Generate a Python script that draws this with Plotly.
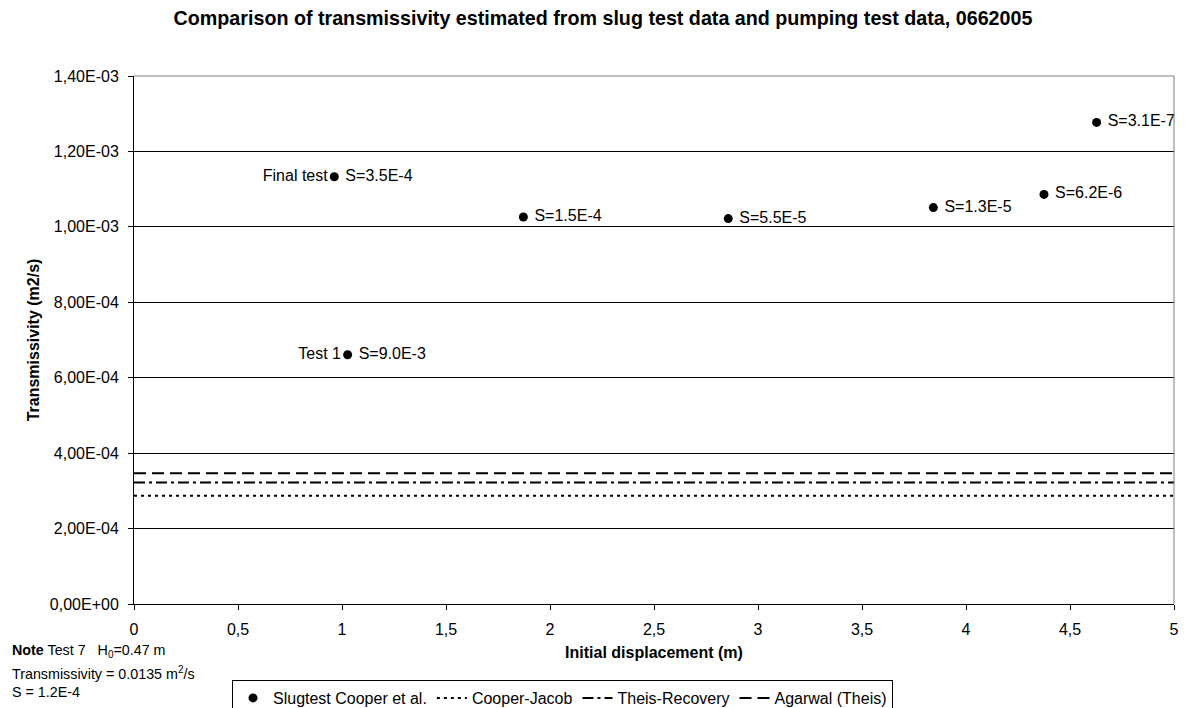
import plotly.graph_objects as go

# Slug test points (Cooper et al.)
disp = [0.963, 1.027, 1.872, 2.857, 3.843, 4.375, 4.628]
trans = [1.133e-3, 6.61e-4, 1.026e-3, 1.022e-3, 1.051e-3, 1.086e-3, 1.277e-3]
s_labels = ["S=3.5E-4", "S=9.0E-3", "S=1.5E-4", "S=5.5E-5", "S=1.3E-5", "S=6.2E-6", "S=3.1E-7"]
left_labels = ["Final test", "Test 1", "", "", "", "", ""]

# Pumping test transmissivities (horizontal reference lines)
line_names = ["Cooper-Jacob", "Theis-Recovery", "Agarwal (Theis)"]
line_values = [2.87e-4, 3.22e-4, 3.47e-4]
line_x = [0, 5]

ytick_vals = [0, 2e-4, 4e-4, 6e-4, 8e-4, 1.0e-3, 1.2e-3, 1.4e-3]
ytick_text = ["0,00E+00", "2,00E-04", "4,00E-04", "6,00E-04", "8,00E-04", "1,00E-03", "1,20E-03", "1,40E-03"]
xtick_vals = [0, 0.5, 1, 1.5, 2, 2.5, 3, 3.5, 4, 4.5, 5]
xtick_text = ["0", "0,5", "1", "1,5", "2", "2,5", "3", "3,5", "4", "4,5", "5"]

FONT = "Liberation Sans, Arial, sans-serif"
FS = 16
dashes = ["3px,4px", "11px,4px,3px,4px", "12px,6px"]

# page body adds an 8px offset; figure is sized so that it ends at the window edge
W, H = 1178, 700
PL, PR, PT, PB = 126, 1166, 68, 596  # plot area in figure pixels

fig = go.Figure()
fig.add_trace(go.Scatter(
    x=disp, y=trans, mode="markers+text", name="Slugtest Cooper et al.",
    marker=dict(color="black", size=9), text=["\u00a0" + s for s in s_labels],
    textposition="middle right",
    textfont=dict(size=FS, color="black", family=FONT), cliponaxis=False))
fig.add_trace(go.Scatter(
    x=disp, y=trans, mode="markers+text", text=left_labels, textposition="middle left",
    marker=dict(size=9, color="rgba(0,0,0,0)"),
    textfont=dict(size=FS, color="black", family=FONT), showlegend=False, hoverinfo="skip",
    cliponaxis=False))
for name, val, d in zip(line_names, line_values, dashes):
    fig.add_trace(go.Scatter(
        x=line_x, y=[val, val], mode="lines", name=name,
        line=dict(color="black", width=2, dash=d)))

ph = PB - PT
pw = PR - PL
fig.update_layout(
    width=W, height=H,
    margin=dict(l=PL, r=W - PR, t=PT, b=H - PB, autoexpand=False),
    paper_bgcolor="white", plot_bgcolor="white",
    font=dict(family=FONT, size=FS, color="black"),
    title=dict(text="<b>Comparison of transmissivity estimated from slug test data and pumping test data, 0662005</b>",
               x=595 / W, xanchor="center", y=1 - 10.5 / H, yanchor="middle",
               font=dict(size=19.7, family=FONT, color="black")),
    showlegend=True,
    legend=dict(orientation="h", x=(224 - PL) / pw, xanchor="left", y=(PB - 672) / ph, yanchor="top",
                bordercolor="black", borderwidth=1, bgcolor="white",
                font=dict(size=FS, family=FONT), itemsizing="trace", tracegroupgap=0),
)
fig.update_xaxes(range=[0, 5], tickvals=xtick_vals, ticktext=xtick_text,
                 showgrid=False, zeroline=False, showline=True, linecolor="black", linewidth=1,
                 ticks="outside", ticklen=5, tickcolor="black", mirror=False,
                 tickfont=dict(size=FS, family=FONT), ticklabelstandoff=6,
                 title=dict(text="<b>Initial displacement (m)</b>", standoff=9,
                            font=dict(size=FS, family=FONT)))
fig.update_yaxes(range=[0, 1.4e-3], tickvals=ytick_vals, ticktext=ytick_text,
                 showgrid=True, gridcolor="black", gridwidth=1, zeroline=False,
                 showline=True, linecolor="black", linewidth=1,
                 ticks="outside", ticklen=5, tickcolor="black",
                 tickfont=dict(size=FS, family=FONT), ticklabelstandoff=6,
                 title=dict(text="<b>Transmissivity (m2/s)</b>", standoff=6,
                            font=dict(size=FS, family=FONT)))
# top and right border of plot area (gray)
fig.add_shape(type="line", xref="paper", yref="paper", x0=1, x1=1, y0=0, y1=1,
              line=dict(color="#808080", width=1))
fig.add_shape(type="line", xref="paper", yref="paper", x0=0, x1=1, y0=1, y1=1,
              line=dict(color="#808080", width=1))

notes = [
    ("<b>Note</b> Test 7   H<sub>0</sub>=0.47 m", 643),
    ("Transmissivity = 0.0135 m<sup>2</sup>/s", 665),
    ("S = 1.2E-4", 684),
]
for txt, py in notes:
    fig.add_annotation(text=txt, xref="paper", yref="paper",
                       x=(2 - PL) / pw, y=(PB - py) / ph,
                       xanchor="left", yanchor="middle", showarrow=False,
                       font=dict(size=14.3, family=FONT, color="black"))

fig.write_html("out.html")
